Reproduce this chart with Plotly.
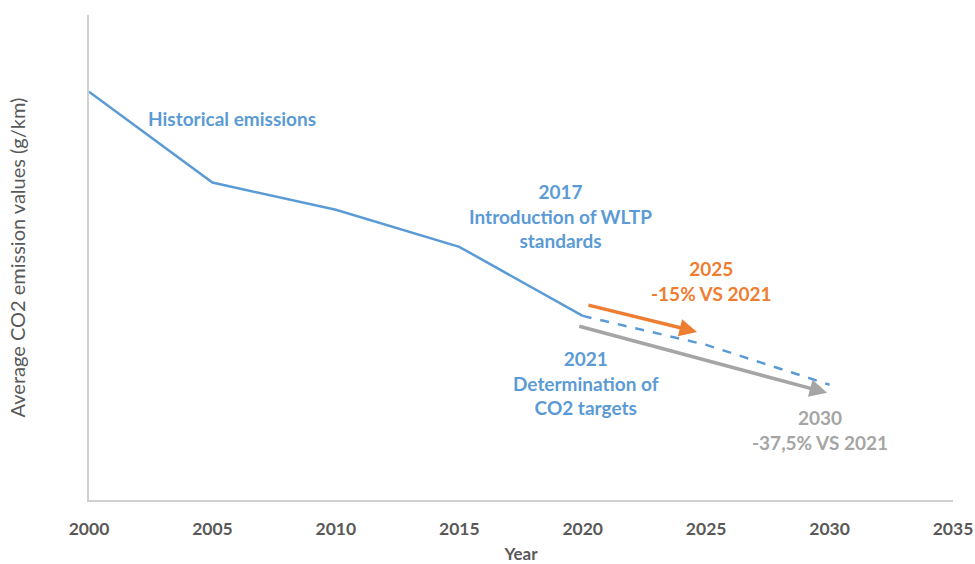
import plotly.graph_objects as go

# Historical emissions (g/km, approximate reading)
hist_years = [2000, 2005, 2010, 2015, 2020]
hist_values = [160.8, 125.0, 114.3, 99.7, 72.5]

# Projected trajectory
proj_years = [2020, 2025, 2030]
proj_values = [72.5, 61.1, 45.4]

# Target arrows: [x_start, y_start, x_end, y_end]
arrow_2025 = [2020.17, 76.9, 2024.63, 66.2]
arrow_2030 = [2019.8, 68.6, 2029.9, 42.2]

x_ticks = [2000, 2005, 2010, 2015, 2020, 2025, 2030, 2035]

BLUE = "#5B9BD5"
ORANGE = "#ED7D31"
GRAY = "#A5A5A5"
TXT = "#595959"
FONT = "Lato"

fig = go.Figure()
fig.add_trace(go.Scatter(x=hist_years, y=hist_values, mode="lines",
                         line=dict(color=BLUE, width=2.5), showlegend=False,
                         hoverinfo="skip"))
fig.add_trace(go.Scatter(x=proj_years, y=proj_values, mode="lines",
                         line=dict(color=BLUE, width=2.5, dash="dash"),
                         showlegend=False, hoverinfo="skip"))

annotations = []
for arr, col in [(arrow_2025, ORANGE), (arrow_2030, GRAY)]:
    annotations.append(dict(x=arr[2], y=arr[3], ax=arr[0], ay=arr[1],
                            xref="x", yref="y", axref="x", ayref="y",
                            showarrow=True, arrowhead=2, arrowsize=1,
                            arrowwidth=3.5, arrowcolor=col, standoff=0,
                            text=""))

def label(x, y, text, color):
    annotations.append(dict(x=x, y=y, xref="x", yref="y", text=text,
                            showarrow=False, align="center",
                            font=dict(family=FONT, size=19, color=color)))

label(2005.8, 150.3, "<b>Historical emissions</b>", BLUE)
label(2019.08, 111.9, "<b>2017<br>Introduction of WLTP<br>standards</b>", BLUE)
label(2025.23, 86.3, "<b>2025<br>-15% VS 2021</b>", ORANGE)
label(2020.13, 46.1, "<b>2021<br>Determination of<br>CO2 targets</b>", BLUE)
label(2029.6, 27.6, "<b>2030<br>-37,5% VS 2021</b>", GRAY)

fig.update_layout(
    width=975, height=564,
    margin=dict(l=89, r=22, t=15, b=64),
    paper_bgcolor="white", plot_bgcolor="white",
    annotations=annotations,
    font=dict(family=FONT, color=TXT),
)
fig.update_xaxes(range=[2000, 2035], tickvals=x_ticks,
                 ticktext=[f"<b>{t}</b>" for t in x_ticks],
                 showgrid=False, zeroline=False, showline=True,
                 linecolor="#D0D0D0", linewidth=1.5, ticks="",
                 automargin=False, ticklabelstandoff=12,
                 tickfont=dict(family=FONT, size=17.5, color=TXT),
                 title=dict(text="<b>Year</b>", standoff=10,
                            font=dict(family=FONT, size=17, color=TXT)))
fig.update_yaxes(range=[0, 191], showticklabels=False, showgrid=False,
                 zeroline=False, showline=True, linecolor="#D0D0D0",
                 linewidth=1.5, ticks="", automargin=False,
                 title=dict(text="Average CO2 emission values (g/km)",
                            standoff=56,
                            font=dict(family=FONT, size=20, color=TXT)))

# remove the browser's default page margin so the figure fills the window
fig.write_html(
    "out.html",
    config={"displayModeBar": False},
    post_script="document.body.style.margin='0';document.body.style.overflow='hidden';",
)
